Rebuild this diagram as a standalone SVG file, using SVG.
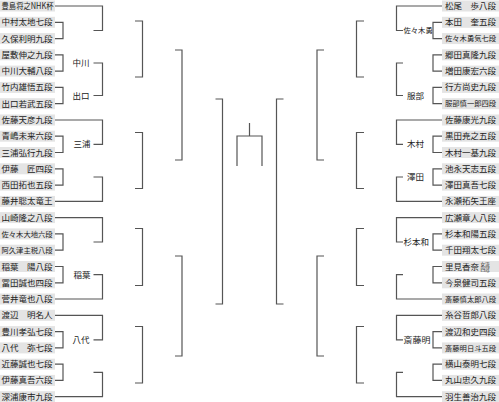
<svg xmlns="http://www.w3.org/2000/svg" width="499" height="402" viewBox="0 0 499 402">
<style>
.box{fill:#e4e4e4}
text{font-family:"Noto Sans CJK JP","Noto Sans",sans-serif;font-size:8.5px;fill:#222}
.sm{font-size:7.3px}
.xs{font-size:4.6px}
.lbl{text-anchor:middle}
.ln{fill:none;stroke:#555;stroke-width:1.2}
</style>
<rect width="499" height="402" fill="#fff"/>
<g id="left-players">
<g id="L0" transform="translate(0,6)"><rect class="box" x="0" y="-5.5" width="55" height="11"/><text x="1.5" y="3" textLength="52" lengthAdjust="spacingAndGlyphs">豊島将之NHK杯</text></g>
<g id="L1" transform="translate(0,22.3)"><rect class="box" x="0" y="-5.5" width="55" height="11"/><text x="1.5" y="3">中村太地七段</text></g>
<g id="L2" transform="translate(0,38.6)"><rect class="box" x="0" y="-5.5" width="55" height="11"/><text x="1.5" y="3">久保利明九段</text></g>
<g id="L3" transform="translate(0,54.8)"><rect class="box" x="0" y="-5.5" width="55" height="11"/><text x="1.5" y="3">屋敷伸之九段</text></g>
<g id="L4" transform="translate(0,71.1)"><rect class="box" x="0" y="-5.5" width="55" height="11"/><text x="1.5" y="3">中川大輔八段</text></g>
<g id="L5" transform="translate(0,87.4)"><rect class="box" x="0" y="-5.5" width="55" height="11"/><text x="1.5" y="3">竹内雄悟五段</text></g>
<g id="L6" transform="translate(0,103.7)"><rect class="box" x="0" y="-5.5" width="55" height="11"/><text x="1.5" y="3">出口若武五段</text></g>
<g id="L7" transform="translate(0,120)"><rect class="box" x="0" y="-5.5" width="55" height="11"/><text x="1.5" y="3">佐藤天彦九段</text></g>
<g id="L8" transform="translate(0,136.2)"><rect class="box" x="0" y="-5.5" width="55" height="11"/><text x="1.5" y="3">青嶋未来六段</text></g>
<g id="L9" transform="translate(0,152.5)"><rect class="box" x="0" y="-5.5" width="55" height="11"/><text x="1.5" y="3">三浦弘行九段</text></g>
<g id="L10" transform="translate(0,168.8)"><rect class="box" x="0" y="-5.5" width="55" height="11"/><text x="1.5" y="3">伊藤　匠四段</text></g>
<g id="L11" transform="translate(0,185.1)"><rect class="box" x="0" y="-5.5" width="55" height="11"/><text x="1.5" y="3">西田拓也五段</text></g>
<g id="L12" transform="translate(0,201.4)"><rect class="box" x="0" y="-5.5" width="55" height="11"/><text x="1.5" y="3">藤井聡太竜王</text></g>
<g id="L13" transform="translate(0,217.6)"><rect class="box" x="0" y="-5.5" width="55" height="11"/><text x="1.5" y="3">山崎隆之八段</text></g>
<g id="L14" transform="translate(0,233.9)"><rect class="box" x="0" y="-5.5" width="55" height="11"/><text class="sm" x="1.5" y="2.6">佐々木大地六段</text></g>
<g id="L15" transform="translate(0,250.2)"><rect class="box" x="0" y="-5.5" width="55" height="11"/><text class="sm" x="1.5" y="2.6">阿久津主税八段</text></g>
<g id="L16" transform="translate(0,266.5)"><rect class="box" x="0" y="-5.5" width="55" height="11"/><text x="1.5" y="3">稲葉　陽八段</text></g>
<g id="L17" transform="translate(0,282.8)"><rect class="box" x="0" y="-5.5" width="55" height="11"/><text x="1.5" y="3">冨田誠也四段</text></g>
<g id="L18" transform="translate(0,299)"><rect class="box" x="0" y="-5.5" width="55" height="11"/><text x="1.5" y="3">菅井竜也八段</text></g>
<g id="L19" transform="translate(0,315.3)"><rect class="box" x="0" y="-5.5" width="55" height="11"/><text x="1.5" y="3">渡辺　明名人</text></g>
<g id="L20" transform="translate(0,331.6)"><rect class="box" x="0" y="-5.5" width="55" height="11"/><text x="1.5" y="3">豊川孝弘七段</text></g>
<g id="L21" transform="translate(0,347.9)"><rect class="box" x="0" y="-5.5" width="55" height="11"/><text x="1.5" y="3">八代　弥七段</text></g>
<g id="L22" transform="translate(0,364.2)"><rect class="box" x="0" y="-5.5" width="55" height="11"/><text x="1.5" y="3">近藤誠也七段</text></g>
<g id="L23" transform="translate(0,380.4)"><rect class="box" x="0" y="-5.5" width="55" height="11"/><text x="1.5" y="3">伊藤真吾六段</text></g>
<g id="L24" transform="translate(0,396.7)"><rect class="box" x="0" y="-5.5" width="55" height="11"/><text x="1.5" y="3">深浦康市九段</text></g>
</g>
<g id="right-players">
<g id="R0" transform="translate(442,6)"><rect class="box" x="0" y="-5.5" width="57" height="11"/><text x="3" y="3">松尾　歩八段</text></g>
<g id="R1" transform="translate(442,22.3)"><rect class="box" x="0" y="-5.5" width="57" height="11"/><text x="3" y="3">本田　奎五段</text></g>
<g id="R2" transform="translate(442,38.6)"><rect class="box" x="0" y="-5.5" width="57" height="11"/><text class="sm" x="3" y="2.6">佐々木勇気七段</text></g>
<g id="R3" transform="translate(442,54.8)"><rect class="box" x="0" y="-5.5" width="57" height="11"/><text x="3" y="3">郷田真隆九段</text></g>
<g id="R4" transform="translate(442,71.1)"><rect class="box" x="0" y="-5.5" width="57" height="11"/><text x="3" y="3">増田康宏六段</text></g>
<g id="R5" transform="translate(442,87.4)"><rect class="box" x="0" y="-5.5" width="57" height="11"/><text x="3" y="3">行方尚史九段</text></g>
<g id="R6" transform="translate(442,103.7)"><rect class="box" x="0" y="-5.5" width="57" height="11"/><text class="sm" x="3" y="2.6">服部慎一郎四段</text></g>
<g id="R7" transform="translate(442,120)"><rect class="box" x="0" y="-5.5" width="57" height="11"/><text x="3" y="3">佐藤康光九段</text></g>
<g id="R8" transform="translate(442,136.2)"><rect class="box" x="0" y="-5.5" width="57" height="11"/><text x="3" y="3">黒田尭之五段</text></g>
<g id="R9" transform="translate(442,152.5)"><rect class="box" x="0" y="-5.5" width="57" height="11"/><text x="3" y="3">木村一基九段</text></g>
<g id="R10" transform="translate(442,168.8)"><rect class="box" x="0" y="-5.5" width="57" height="11"/><text x="3" y="3">池永天志五段</text></g>
<g id="R11" transform="translate(442,185.1)"><rect class="box" x="0" y="-5.5" width="57" height="11"/><text x="3" y="3">澤田真吾七段</text></g>
<g id="R12" transform="translate(442,201.4)"><rect class="box" x="0" y="-5.5" width="57" height="11"/><text x="3" y="3">永瀬拓矢王座</text></g>
<g id="R13" transform="translate(442,217.6)"><rect class="box" x="0" y="-5.5" width="57" height="11"/><text x="3" y="3">広瀬章人八段</text></g>
<g id="R14" transform="translate(442,233.9)"><rect class="box" x="0" y="-5.5" width="57" height="11"/><text x="3" y="3">杉本和陽五段</text></g>
<g id="R15" transform="translate(442,250.2)"><rect class="box" x="0" y="-5.5" width="57" height="11"/><text x="3" y="3">千田翔太七段</text></g>
<g id="R16" transform="translate(442,266.5)"><rect class="box" x="0" y="-5.5" width="57" height="11"/><text x="3" y="3">里見香奈</text><text class="xs" x="38.5" y="-0.6">女流</text><text class="xs" x="38.5" y="4.4">四冠</text></g>
<g id="R17" transform="translate(442,282.8)"><rect class="box" x="0" y="-5.5" width="57" height="11"/><text x="3" y="3">今泉健司五段</text></g>
<g id="R18" transform="translate(442,299)"><rect class="box" x="0" y="-5.5" width="57" height="11"/><text class="sm" x="3" y="2.6">斎藤慎太郎八段</text></g>
<g id="R19" transform="translate(442,315.3)"><rect class="box" x="0" y="-5.5" width="57" height="11"/><text x="3" y="3">糸谷哲郎八段</text></g>
<g id="R20" transform="translate(442,331.6)"><rect class="box" x="0" y="-5.5" width="57" height="11"/><text x="3" y="3">渡辺和史四段</text></g>
<g id="R21" transform="translate(442,347.9)"><rect class="box" x="0" y="-5.5" width="57" height="11"/><text class="sm" x="3" y="2.6">斎藤明日斗五段</text></g>
<g id="R22" transform="translate(442,364.2)"><rect class="box" x="0" y="-5.5" width="57" height="11"/><text x="3" y="3">横山泰明七段</text></g>
<g id="R23" transform="translate(442,380.4)"><rect class="box" x="0" y="-5.5" width="57" height="11"/><text x="3" y="3">丸山忠久九段</text></g>
<g id="R24" transform="translate(442,396.7)"><rect class="box" x="0" y="-5.5" width="57" height="11"/><text x="3" y="3">羽生善治九段</text></g>
</g>
<g id="winner-labels">
<text class="lbl" x="81" y="66">中川</text>
<text class="lbl" x="81" y="98.5">出口</text>
<text class="lbl" x="82" y="147.4">三浦</text>
<text class="lbl" x="82" y="277.7">稲葉</text>
<text class="lbl" x="81" y="342.8">八代</text>
<text class="sm" x="403.5" y="33">佐々木勇</text>
<text x="407" y="98.5">服部</text>
<text x="407" y="147.4">木村</text>
<text x="407" y="180">澤田</text>
<text x="403.5" y="245">杉本和</text>
<text x="403.5" y="342.8" textLength="27" lengthAdjust="spacingAndGlyphs">斎藤明</text>
</g>
<g id="connectors" class="ln">
<path d="M55 22.3H63V38.6H55M55 54.8H63V71.1H55M55 87.4H63V103.7H55M55 136.2H63V152.5H55M55 168.8H63V185.1H55M55 233.9H63V250.2H55M55 266.5H63V282.8H55M55 331.6H63V347.9H55M55 364.2H63V380.4H55"/>
<path d="M55 6H102.5V30.5H93.5M93.5 63H102.5V95.5H93.5M55 120H102.5V144.4H93.5M93.5 177H102.5V201.4H55M55 217.6H102.5V242H93.5M93.5 274.7H102.5V299H55M55 315.3H102.5V339.8H93.5M93.5 372.3H102.5V396.7H55"/>
<path d="M135 21H142.5V77H135M135 132.5H142.5V188.5H135M135 228.5H142.5V285.5H135M135 326.5H142.5V383H135"/>
<path d="M175 50H182V160H175M175 256H182V356H175"/>
<path d="M215.5 99H222.5V304H215.5"/>
<path d="M249.5 123V136M237 166V136H262V166"/>
<path d="M283.5 99H276.5V304H283.5"/>
<path d="M324 50H317V160H324M324 256H317V356H324"/>
<path d="M364 21H356.5V77H364M364 132.5H356.5V188.5H364M364 228.5H356.5V285.5H364M364 326.5H356.5V383H364"/>
<path d="M442 6H396.5V30.5H403M403 63H396.5V95.5H403M442 120H396.5V144.4H403M403 177H396.5V201.4H442M442 217.6H396.5V242H403M403 274.7H396.5V299H442M442 315.3H396.5V339.8H403M403 372.3H396.5V396.7H442"/>
<path d="M442 22.3H433V38.6H442M442 54.8H433V71.1H442M442 87.4H433V103.7H442M442 136.2H433V152.5H442M442 168.8H433V185.1H442M442 233.9H433V250.2H442M442 266.5H433V282.8H442M442 331.6H433V347.9H442M442 364.2H433V380.4H442"/>
</g>
</svg>
